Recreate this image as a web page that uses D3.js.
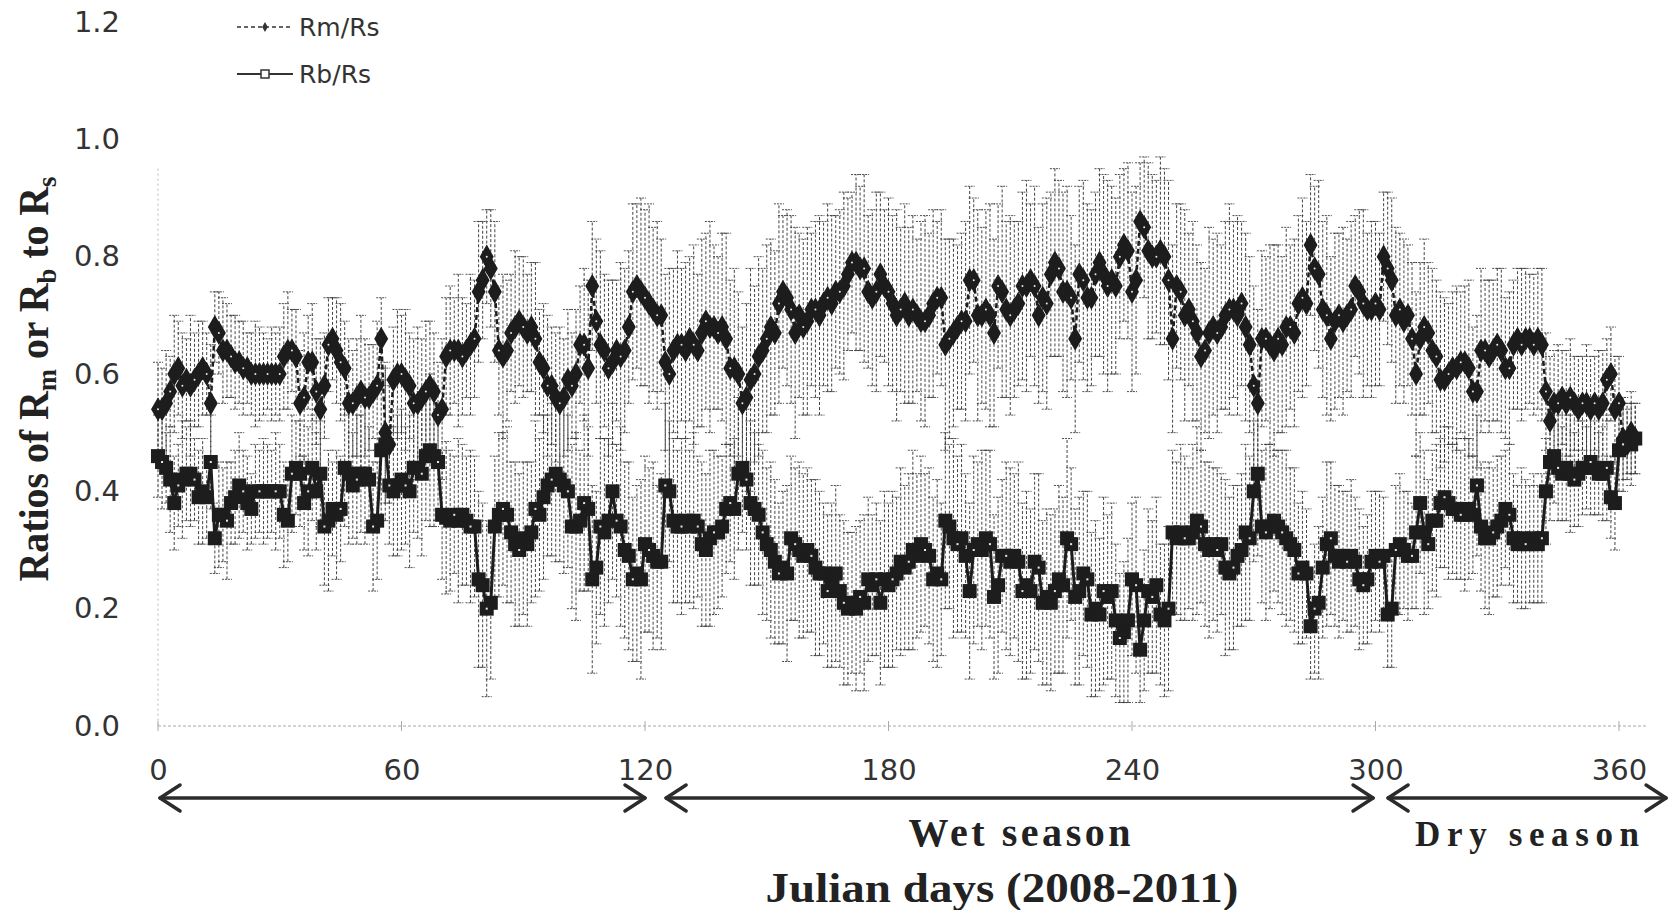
<!DOCTYPE html>
<html>
<head>
<meta charset="utf-8">
<script src="https://cdn.jsdelivr.net/npm/d3@7"></script>
<style>
  body { margin: 0; background: #fff; }
  svg { display: block; }
</style>
</head>
<body>
<svg id="chart" width="1672" height="910"></svg>
<script>
// Daily ratio of Rm to Rs, Julian day 0..364
const rmRs = [
  0.54,0.54,0.55,0.57,0.60,0.61,0.58,0.59,0.58,0.59,
  0.60,0.61,0.60,0.55,0.68,0.67,0.64,0.64,0.63,0.62,
  0.62,0.61,0.61,0.60,0.60,0.60,0.60,0.60,0.60,0.60,
  0.60,0.63,0.64,0.64,0.63,0.55,0.56,0.62,0.62,0.57,
  0.54,0.58,0.65,0.66,0.64,0.62,0.61,0.55,0.55,0.56,
  0.57,0.56,0.56,0.57,0.58,0.66,0.50,0.48,0.59,0.60,
  0.60,0.59,0.58,0.55,0.55,0.56,0.57,0.58,0.57,0.53,
  0.54,0.63,0.64,0.64,0.64,0.63,0.64,0.65,0.66,0.74,
  0.76,0.80,0.78,0.74,0.64,0.63,0.64,0.67,0.68,0.69,
  0.68,0.67,0.68,0.66,0.62,0.61,0.58,0.58,0.56,0.55,
  0.56,0.59,0.58,0.60,0.65,0.65,0.61,0.75,0.69,0.65,
  0.64,0.61,0.62,0.64,0.63,0.64,0.68,0.74,0.75,0.74,
  0.73,0.72,0.71,0.70,0.70,0.62,0.60,0.64,0.65,0.65,
  0.64,0.66,0.65,0.64,0.67,0.69,0.68,0.68,0.67,0.68,
  0.66,0.61,0.61,0.60,0.55,0.56,0.59,0.60,0.63,0.64,
  0.66,0.68,0.67,0.72,0.74,0.73,0.71,0.67,0.70,0.68,
  0.69,0.71,0.71,0.70,0.72,0.73,0.72,0.74,0.74,0.75,
  0.77,0.79,0.79,0.78,0.78,0.74,0.73,0.74,0.77,0.75,
  0.74,0.72,0.70,0.71,0.72,0.70,0.71,0.70,0.69,0.69,
  0.70,0.72,0.73,0.73,0.65,0.66,0.67,0.68,0.69,0.69,
  0.76,0.76,0.70,0.70,0.71,0.70,0.67,0.75,0.74,0.71,
  0.70,0.71,0.72,0.75,0.75,0.76,0.75,0.70,0.73,0.72,
  0.77,0.79,0.78,0.74,0.74,0.73,0.66,0.77,0.76,0.73,
  0.73,0.77,0.79,0.77,0.75,0.76,0.75,0.80,0.82,0.81,
  0.74,0.76,0.86,0.85,0.81,0.80,0.80,0.81,0.80,0.76,
  0.66,0.75,0.74,0.70,0.71,0.69,0.67,0.63,0.64,0.67,
  0.68,0.67,0.68,0.70,0.71,0.71,0.70,0.72,0.68,0.65,
  0.58,0.55,0.66,0.66,0.65,0.64,0.66,0.65,0.68,0.68,
  0.67,0.72,0.73,0.72,0.82,0.78,0.77,0.71,0.70,0.66,
  0.69,0.70,0.69,0.70,0.71,0.75,0.74,0.72,0.71,0.71,
  0.72,0.71,0.80,0.78,0.76,0.70,0.71,0.69,0.70,0.66,
  0.60,0.66,0.68,0.67,0.64,0.63,0.59,0.59,0.60,0.61,
  0.61,0.62,0.62,0.61,0.57,0.57,0.64,0.64,0.63,0.64,
  0.65,0.64,0.61,0.61,0.65,0.66,0.65,0.66,0.66,0.65,
  0.66,0.65,0.57,0.52,0.55,0.55,0.56,0.55,0.56,0.55,
  0.54,0.55,0.55,0.54,0.55,0.54,0.55,0.59,0.60,0.54,
  0.55,0.49,0.48,0.50,0.49
];

// Daily ratio of Rb to Rs, Julian day 0..364
const rbRs = [
  0.46,0.45,0.44,0.42,0.38,0.41,0.42,0.43,0.43,0.42,
  0.39,0.40,0.39,0.45,0.32,0.36,0.36,0.35,0.38,0.39,
  0.41,0.40,0.38,0.37,0.40,0.40,0.40,0.40,0.40,0.40,
  0.40,0.36,0.35,0.43,0.44,0.43,0.38,0.40,0.44,0.40,
  0.43,0.34,0.35,0.37,0.36,0.37,0.44,0.43,0.41,0.42,
  0.43,0.43,0.42,0.34,0.35,0.47,0.48,0.41,0.40,0.41,
  0.42,0.41,0.40,0.44,0.44,0.43,0.46,0.47,0.46,0.45,
  0.36,0.355,0.35,0.36,0.35,0.36,0.35,0.34,0.34,0.25,
  0.24,0.20,0.21,0.34,0.36,0.37,0.36,0.33,0.31,0.30,
  0.32,0.31,0.33,0.37,0.36,0.39,0.41,0.42,0.43,0.42,
  0.41,0.40,0.34,0.34,0.35,0.38,0.37,0.25,0.27,0.34,
  0.33,0.35,0.40,0.35,0.34,0.30,0.29,0.25,0.26,0.25,
  0.31,0.30,0.29,0.28,0.28,0.41,0.40,0.35,0.34,0.34,
  0.35,0.34,0.35,0.34,0.31,0.30,0.32,0.33,0.33,0.34,
  0.37,0.38,0.37,0.43,0.44,0.42,0.38,0.37,0.36,0.33,
  0.31,0.30,0.28,0.26,0.27,0.26,0.32,0.31,0.30,0.29,
  0.30,0.29,0.27,0.26,0.26,0.23,0.24,0.26,0.23,0.21,
  0.20,0.21,0.20,0.22,0.21,0.25,0.24,0.25,0.21,0.25,
  0.24,0.25,0.26,0.28,0.27,0.28,0.30,0.29,0.31,0.30,
  0.29,0.25,0.26,0.25,0.35,0.34,0.32,0.31,0.32,0.29,
  0.23,0.30,0.31,0.30,0.32,0.31,0.22,0.24,0.29,0.29,
  0.28,0.29,0.28,0.23,0.24,0.23,0.28,0.27,0.21,0.22,
  0.21,0.23,0.25,0.24,0.32,0.31,0.22,0.23,0.26,0.25,
  0.19,0.20,0.19,0.23,0.22,0.23,0.18,0.15,0.16,0.18,
  0.25,0.24,0.13,0.18,0.23,0.22,0.24,0.19,0.18,0.20,
  0.33,0.32,0.33,0.32,0.32,0.33,0.35,0.34,0.31,0.30,
  0.31,0.30,0.31,0.27,0.26,0.27,0.29,0.30,0.33,0.32,
  0.40,0.43,0.34,0.33,0.34,0.35,0.34,0.33,0.32,0.31,
  0.30,0.26,0.27,0.26,0.17,0.20,0.21,0.27,0.31,0.32,
  0.29,0.28,0.29,0.28,0.29,0.28,0.25,0.24,0.25,0.28,
  0.29,0.28,0.29,0.19,0.20,0.30,0.31,0.30,0.29,0.29,
  0.33,0.38,0.33,0.31,0.35,0.35,0.38,0.39,0.38,0.37,
  0.37,0.36,0.36,0.37,0.36,0.41,0.34,0.32,0.32,0.33,
  0.34,0.35,0.37,0.36,0.32,0.31,0.32,0.31,0.31,0.32,
  0.31,0.32,0.40,0.45,0.46,0.44,0.43,0.44,0.43,0.42,
  0.43,0.44,0.44,0.45,0.44,0.43,0.43,0.44,0.39,0.38,
  0.47,0.48,0.49,0.48,0.49
];

// Error-bar half widths, in hundredths of the ratio
const rmErr = [
  8,7,9,6,10,8,9,7,12,8,   9,8,7,10,6,7,9,8,7,8,
  7,8,6,7,9,8,7,6,8,7,     8,9,10,7,8,9,11,8,10,9,
  12,9,8,7,9,10,8,11,9,10, 13,10,9,8,11,7,12,10,9,11,
  10,12,9,11,13,10,12,11,10,9, 12,10,11,9,13,10,8,12,10,12,
  10,8,10,12,11,14,12,10,13,11, 12,10,11,13,9,11,12,10,11,13,
  10,12,9,11,10,13,15,11,14,16, 13,15,14,12,16,14,13,15,14,16,
  15,17,14,16,13,15,18,14,16,13, 15,14,17,13,16,15,18,14,13,16,
  18,15,17,14,13,16,19,15,17,14, 16,15,14,17,13,15,16,18,14,15,
  16,13,15,17,14,16,15,13,14,16, 13,12,15,14,16,13,15,17,14,13,
  16,15,18,14,17,15,16,13,17,18, 14,16,13,15,18,17,16,14,15,17,
  16,14,18,15,17,19,16,14,18,15, 17,15,14,16,18,13,17,15,16,18,
  14,16,15,17,18,14,16,15,17,16, 15,14,16,17,18,16,15,14,13,15,
  17,16,10,12,15,14,13,16,15,17, 16,14,15,18,13,17,15,16,14,18,
  15,17,14,16,18,15,17,14,16,15, 17,16,15,14,17,18,16,15,17,14,
  16,15,17,14,12,14,16,15,17,14, 15,14,16,13,15,12,14,16,13,15,
  14,13,11,13,14,15,13,14,12,13, 14,13,15,12,14,13,15,14,12,13,
  14,12,13,15,11,13,14,12,13,12, 13,14,12,13,11,12,13,12,11,12,
  12,13,10,11,9,10,8,9,10,8,     9,8,10,9,8,10,9,7,8,9,
  8,7,6,7,6
];
const rbErr = [
  7,8,6,9,8,7,10,8,9,7,    8,9,7,8,6,9,8,10,7,8,
  9,7,8,6,8,7,9,8,7,10,    8,9,7,10,8,9,8,11,9,10,
  9,10,12,8,11,9,10,12,9,11, 10,12,9,11,10,12,13,10,11,12,
  12,10,13,11,12,14,11,13,12,10, 11,13,12,10,14,12,11,13,12,15,
  14,15,13,12,14,13,15,12,14,13, 13,14,12,15,13,14,12,13,15,14,
  15,13,14,16,12,15,14,16,13,15, 16,14,15,13,17,15,16,14,15,17,
  15,14,16,13,15,14,12,14,13,15, 14,13,15,12,14,13,15,14,13,12,
  11,10,12,13,11,12,14,13,12,14, 13,15,14,12,13,15,14,13,15,14,
  14,13,15,14,12,13,14,15,13,14, 13,12,14,13,15,14,12,13,14,15,
  14,15,13,16,14,15,17,14,15,13, 15,14,16,13,15,14,17,15,16,14,
  15,16,14,17,15,16,14,15,13,16, 16,14,17,15,16,14,15,16,14,15,
  15,14,16,15,17,13,15,16,14,15, 14,15,13,16,14,15,13,11,12,14,
  13,15,9,12,14,13,15,12,13,14,  14,13,15,14,12,15,16,13,14,15,
  13,14,12,15,13,14,12,13,15,14, 12,14,13,15,14,12,13,14,15,13,
  14,12,13,11,9,11,13,12,14,13,  12,13,11,12,13,11,12,10,11,12,
  11,12,10,9,10,11,12,10,11,9,   13,12,14,11,12,13,11,12,13,11,
  12,11,13,12,10,12,11,12,13,11, 12,11,10,12,11,10,12,11,10,11,
  10,11,9,10,8,9,8,9,10,8,       9,8,7,9,8,7,8,9,7,8,
  7,8,6,7,6
];

const yTicks = [0, 0.2, 0.4, 0.6, 0.8, 1.0, 1.2];
const xTicks = [0, 60, 120, 180, 240, 300, 360];
const seriesNames = ["Rm/Rs", "Rb/Rs"];
// Day ranges spanned by the season arrows beneath the axis
const seasonFrom = [0.5, 125.2, 303.1];
const seasonTo = [120, 299.4, 371.6];
const seasonNames = ["", "Wet season", "Dry season"];

const svg = d3.select("#chart");
const x = d3.scaleLinear().domain([0, 360]).range([158, 1619]);
const y = d3.scaleLinear().domain([0, 1.2]).range([726, 22]);
const ink = "#1d1d1d";

// Faint axis lines
svg.append("line")
  .attr("x1", x(0)).attr("x2", x(0))
  .attr("y1", y(0.95)).attr("y2", y(0))
  .attr("stroke", "#b8b8b8").attr("stroke-width", 1)
  .attr("stroke-dasharray", "2,3");
svg.append("line")
  .attr("x1", x(0)).attr("x2", x(367))
  .attr("y1", y(0)).attr("y2", y(0))
  .attr("stroke", "#a8a8a8").attr("stroke-width", 1)
  .attr("stroke-dasharray", "3,2");
svg.append("g").selectAll("line").data(xTicks).join("line")
  .attr("x1", d => x(d)).attr("x2", d => x(d))
  .attr("y1", y(0) - 5).attr("y2", y(0) + 5)
  .attr("stroke", "#aaa").attr("stroke-width", 1);

// Tick labels
const yAxis = svg.append("g")
  .attr("transform", `translate(${x(0)},0)`)
  .call(d3.axisLeft(y).tickValues(yTicks).tickFormat(d3.format(".1f")).tickSize(0).tickPadding(38));
const xAxis = svg.append("g")
  .attr("transform", `translate(0,${y(0)})`)
  .call(d3.axisBottom(x).tickValues(xTicks).tickFormat(d3.format("d")).tickSize(0).tickPadding(33));
[yAxis, xAxis].forEach(g => {
  g.select(".domain").remove();
  g.selectAll("text")
    .attr("fill", "#333")
    .style("font-family", "'DejaVu Sans', Verdana, sans-serif")
    .style("font-size", "29px");
});

// Error bars
function errorBars(values, errs, cls) {
  const g = svg.append("g").attr("class", cls);
  const rows = values.map((v, i) => ({ i, lo: v - errs[i] / 100, hi: v + errs[i] / 100 }));
  g.selectAll("line.stem").data(rows).join("line")
    .attr("class", "stem")
    .attr("x1", d => x(d.i)).attr("x2", d => x(d.i))
    .attr("y1", d => y(d.lo)).attr("y2", d => y(d.hi))
    .attr("stroke", "#2e2e2e").attr("stroke-width", 0.9)
    .attr("stroke-dasharray", "3,2");
  ["lo", "hi"].forEach(k => {
    g.selectAll("line.cap-" + k).data(rows).join("line")
      .attr("class", "cap-" + k)
      .attr("x1", d => x(d.i) - 5).attr("x2", d => x(d.i) + 5)
      .attr("y1", d => y(d[k])).attr("y2", d => y(d[k]))
      .attr("stroke", "#3a3a3a").attr("stroke-width", 0.9)
      .attr("stroke-dasharray", "2,1");
  });
}
errorBars(rmRs, rmErr, "err-rm");
errorBars(rbRs, rbErr, "err-rb");

// Series lines
const line = d3.line().x((d, i) => x(i)).y(d => y(d));
svg.append("path").datum(rmRs)
  .attr("d", line).attr("fill", "none")
  .attr("stroke", ink).attr("stroke-width", 2.5)
  .attr("stroke-dasharray", "5,3");
svg.append("path").datum(rbRs)
  .attr("d", line).attr("fill", "none")
  .attr("stroke", ink).attr("stroke-width", 3);

// Markers
const diamond = d3.symbol().type(d3.symbolDiamond).size(95);
const rmG = svg.append("g");
rmG.selectAll("path").data(rmRs).join("path")
  .attr("d", diamond)
  .attr("transform", (d, i) => `translate(${x(i)},${y(d)})`)
  .attr("fill", ink).attr("stroke", ink).attr("stroke-width", 3);
rmG.selectAll("circle").data(rmRs).join("circle")
  .attr("cx", (d, i) => x(i)).attr("cy", d => y(d)).attr("r", 1)
  .attr("fill", "#fff").attr("opacity", (d, i) => i % 3 === 0 ? 0.9 : 0);

const rbG = svg.append("g");
rbG.selectAll("rect.m").data(rbRs).join("rect")
  .attr("class", "m")
  .attr("x", (d, i) => x(i) - 5.5).attr("y", d => y(d) - 5.5)
  .attr("width", 11).attr("height", 11)
  .attr("fill", ink).attr("stroke", ink).attr("stroke-width", 3);
rbG.selectAll("rect.c").data(rbRs).join("rect")
  .attr("class", "c")
  .attr("x", (d, i) => x(i) - 1).attr("y", d => y(d) - 1)
  .attr("width", 2).attr("height", 2)
  .attr("fill", "#fff").attr("opacity", (d, i) => i % 4 === 1 ? 0.9 : 0);

// Legend
const legend = svg.append("g").attr("transform", "translate(237,0)");
const legendY = [27, 74];
legend.append("line").attr("x1", 0).attr("x2", 56).attr("y1", legendY[0]).attr("y2", legendY[0])
  .attr("stroke", "#333").attr("stroke-width", 1.3).attr("stroke-dasharray", "4,3");
legend.append("path").attr("d", d3.symbol().type(d3.symbolDiamond).size(28))
  .attr("transform", `translate(28,${legendY[0]})`).attr("fill", "#333");
legend.append("line").attr("x1", 0).attr("x2", 56).attr("y1", legendY[1]).attr("y2", legendY[1])
  .attr("stroke", "#333").attr("stroke-width", 2);
legend.append("rect").attr("x", 24).attr("y", legendY[1] - 4).attr("width", 8).attr("height", 8)
  .attr("fill", "#fff").attr("stroke", "#333").attr("stroke-width", 1.5);
legend.selectAll("text").data(seriesNames).join("text")
  .attr("x", 62).attr("y", (d, i) => legendY[i] + 9)
  .attr("fill", "#333")
  .style("font-family", "'DejaVu Sans', Verdana, sans-serif")
  .style("font-size", "25px")
  .text(d => d);

// Season arrows
const arrowY = 798;
const arrows = svg.append("g").attr("stroke", "#2b2b2b").attr("stroke-width", 3.5)
  .attr("fill", "none").attr("stroke-linecap", "round").attr("stroke-linejoin", "round");
seasonFrom.forEach((f, i) => {
  const x0 = x(f), x1 = x(seasonTo[i]);
  arrows.append("line").attr("x1", x0).attr("x2", x1).attr("y1", arrowY).attr("y2", arrowY);
  arrows.append("polyline").attr("points", `${x0 + 20},${arrowY - 13} ${x0},${arrowY} ${x0 + 20},${arrowY + 13}`);
  arrows.append("polyline").attr("points", `${x1 - 20},${arrowY - 13} ${x1},${arrowY} ${x1 - 20},${arrowY + 13}`);
});
const serif = "'Liberation Serif', 'Times New Roman', serif";
svg.append("text")
  .attr("x", x((seasonFrom[1] + seasonTo[1]) / 2)).attr("y", 846)
  .attr("text-anchor", "middle").attr("fill", "#222")
  .style("font-family", serif).style("font-weight", "bold").style("font-size", "40px")
  .attr("textLength", 222).attr("lengthAdjust", "spacing")
  .text(seasonNames[1]);
svg.append("text")
  .attr("x", x((seasonFrom[2] + seasonTo[2]) / 2)).attr("y", 846)
  .attr("text-anchor", "middle").attr("fill", "#222")
  .style("font-family", serif).style("font-weight", "bold").style("font-size", "35px")
  .attr("textLength", 224).attr("lengthAdjust", "spacing")
  .text(seasonNames[2]);

// Axis titles
const xTitle = svg.append("text")
  .attr("text-anchor", "middle").attr("fill", "#222")
  .style("font-family", serif).style("font-weight", "bold").style("font-size", "42px")
  .text("Julian days (2008-2011)");
{
  const w = xTitle.node().getComputedTextLength();
  xTitle.attr("transform", `translate(1002,902) scale(${473 / w},1)`);
}

const yTitle = svg.append("text")
  .attr("text-anchor", "middle").attr("fill", "#222")
  .style("font-family", serif).style("font-weight", "bold").style("font-size", "42px");
[["Ratios of R", false], ["m", true], [" or R", false], ["b", true], [" to R", false], ["s", true]]
  .forEach(([t, sub]) => {
    const ts = yTitle.append("tspan").text(t);
    if (sub) ts.attr("baseline-shift", "-28%").style("font-size", "28px");
  });
{
  const w = yTitle.node().getComputedTextLength();
  yTitle.attr("transform", `translate(48,379) rotate(-90) scale(${405 / w},1)`);
}
</script>
</body>
</html>
